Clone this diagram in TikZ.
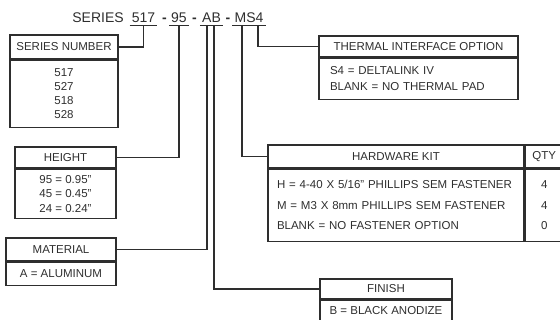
\documentclass[tikz,border=0pt]{standalone}
\usepackage{fontspec}
\setmainfont{Liberation Sans}
\usetikzlibrary{positioning}
\definecolor{ink}{HTML}{2E2E2E}

\tikzset{
  head/.style={draw=ink, line width=1.2pt, inner sep=0pt, text=ink,
    font=\fontsize{11.5}{14}\selectfont},
  body/.style={head, align=center},
  lead/.style={draw=ink, line width=1.2pt},
  part/.style={anchor=base, inner xsep=2pt, inner ysep=2.3pt, text depth=0pt,
    text=ink, font=\fontsize{14}{16}\selectfont},
}

\begin{document}
\begin{tikzpicture}[x=1pt, y=-1pt]
  \useasboundingbox (0,0) rectangle (560,320);
  \clip (0,0) rectangle (560,320);

  % part number
  \node[part] (ser) at (98,22.7) {SERIES};
  \node[part] (sn)  at (143.5,22.7) {517};
  \node[part] (d1)  at (164.5,22.7) {\textbf{-}};
  \node[part] (ht)  at (179,22.7) {95};
  \node[part] (d2)  at (194.5,22.7) {\textbf{-}};
  \node[part] (mf)  at (211.5,22.7) {AB};
  \node[part] (d3)  at (228,22.7) {\textbf{-}};
  \node[part] (ms)  at (249,22.7) {MS4};
  \foreach \p in {sn,ht,mf,ms}
    \draw[lead] (\p.south west) -- (\p.south east);

  \coordinate (cA) at (207,25);
  \coordinate (cB) at (214,25);
  \coordinate (cM) at (242,25);
  \coordinate (cS) at (258,25);

  % series number
  \node[head, minimum width=108pt, minimum height=24pt] (snh) at (64,47) {SERIES NUMBER};
  \node[body, minimum width=108pt, minimum height=67pt, below=0pt of snh] (snb)
    {517\\527\\518\\528};

  % height
  \node[head, minimum width=101pt, minimum height=21pt] (hth) at (65.5,157.5) {HEIGHT};
  \node[body, minimum width=101pt, minimum height=49pt, below=0pt of hth,
    font=\fontsize{11.5}{14.5}\selectfont] (htb)
    {95 = 0.95"\\45 = 0.45"\\24 = 0.24"};

  % material
  \node[head, minimum width=110pt, minimum height=23pt] (math) at (61,249.5) {MATERIAL};
  \node[body, minimum width=110pt, minimum height=23pt, below=0pt of math] (matb)
    {A = ALUMINUM};

  % thermal interface
  \node[head, minimum width=199pt, minimum height=21pt] (thh) at (418.5,46.5)
    {THERMAL INTERFACE OPTION};
  \node[head, align=left, inner xsep=11pt, text width=177pt, minimum height=41pt,
    below=0pt of thh, font=\fontsize{11.5}{16}\selectfont] (thb)
    {S4 = DELTALINK IV\\BLANK = NO THERMAL PAD};

  % hardware kit
  \node[head, minimum width=256pt, minimum height=23pt] (hwh) at (396,156.5) {HARDWARE KIT};
  \node[head, align=left, inner xsep=9pt, text width=238pt, minimum height=72pt,
    below=0pt of hwh, font=\fontsize{11.5}{20.5}\selectfont] (hwb)
    {\hyphenpenalty=10000 H = 4-40 X 5/16" PHILLIPS SEM FASTENER\\M = M3 X 8mm PHILLIPS SEM FASTENER\\BLANK = NO FASTENER OPTION};
  \node[head, minimum width=38pt, minimum height=23pt, right=0pt of hwh] (qth) {QTY};
  \node[body, minimum width=38pt, minimum height=72pt, below=0pt of qth,
    font=\fontsize{11.5}{20.5}\selectfont] (qtb) {4\\4\\0};

  % finish
  \node[head, minimum width=132pt, minimum height=20pt] (fnh) at (386,289) {FINISH};
  \node[body, minimum width=132pt, minimum height=20pt, below=0pt of fnh] (fnb)
    {B = BLACK ANODIZE};

  % leaders
  \draw[lead] (sn.south) |- (snh.east);
  \draw[lead] (ht.south) |- (hth.east);
  \draw[lead] (cA) |- (math.east);
  \draw[lead] (cB) |- (fnh.west);
  \draw[lead] (cM) |- (hwh.west);
  \draw[lead] (cS) |- (thh.west);
\end{tikzpicture}
\end{document}
